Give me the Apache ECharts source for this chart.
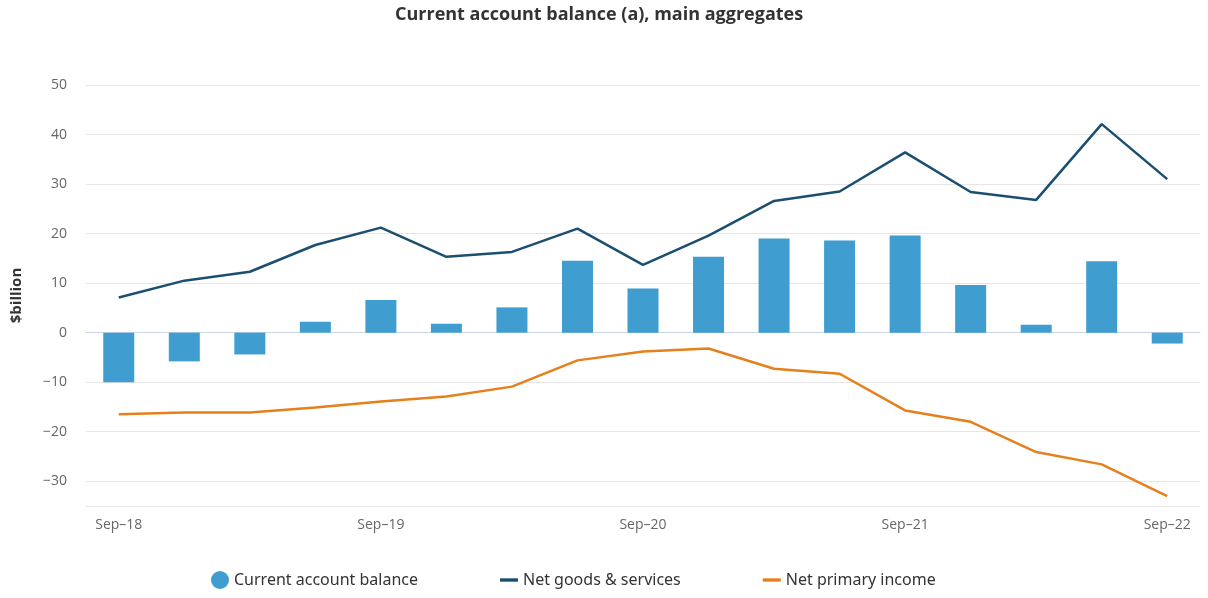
<!DOCTYPE html>
<html>
<head>
<meta charset="utf-8">
<script src="https://cdn.jsdelivr.net/npm/echarts@6/dist/echarts.min.js"></script>
<style>html,body{margin:0;padding:0;background:#fff}#c{width:1208px;height:598px}</style>
</head>
<body>
<div id="c"></div>
<script>
const categories = ["Sep-18","Dec-18","Mar-19","Jun-19","Sep-19","Dec-19","Mar-20","Jun-20","Sep-20","Dec-20","Mar-21","Jun-21","Sep-21","Dec-21","Mar-22","Jun-22","Sep-22"];
const currentAccount = [-10.0,-5.8,-4.4,2.2,6.6,1.8,5.1,14.5,8.9,15.3,19.0,18.6,19.6,9.6,1.6,14.4,-2.2];
const netGoodsServices = [7.1,10.5,12.3,17.7,21.2,15.3,16.3,21.0,13.7,19.6,26.6,28.5,36.4,28.4,26.8,42.1,31.0];
const netPrimaryIncome = [-16.5,-16.1,-16.1,-15.1,-13.9,-12.9,-10.9,-5.6,-3.8,-3.2,-7.3,-8.3,-15.7,-18.0,-24.1,-26.6,-33.0];

const chart = echarts.init(document.getElementById('c'));
const font = '"Open Sans", "DejaVu Sans", sans-serif';
const lineIcon = 'path://M0,0 H16 V3 H0 Z';
chart.setOption({
  animation: false,
  title: {
    text: 'Current account balance (a), main aggregates',
    left: 390, top: 1,
    textStyle: {fontFamily: font, fontSize: 18, fontWeight: 'bold', color: '#333'}
  },
  legend: {
    bottom: 4, left: 206, itemGap: 82,
    textStyle: {fontFamily: '"Noto Sans", sans-serif', fontSize: 16, color: '#333'},
    data: [
      {name: 'Current account balance', icon: 'circle'},
      {name: 'Net goods & services', icon: lineIcon},
      {name: 'Net primary income', icon: lineIcon}
    ],
    itemWidth: 18, itemHeight: 18
  },
  grid: {left: 86, right: 8, top: 85, bottom: 92},
  xAxis: {
    type: 'category', data: categories, boundaryGap: true,
    axisLine: {lineStyle: {color: '#ccd6eb'}},
    axisTick: {show: false},
    axisLabel: {interval: 3, color: '#666', fontFamily: font, fontSize: 14, margin: 12,
      formatter: v => v.replace('-', '\u2013')}
  },
  yAxis: {
    type: 'value', min: -35, max: 50, splitNumber: 8, minInterval: 10, maxInterval: 10,
    name: '$billion', nameLocation: 'middle', nameGap: 62, nameRotate: 90,
    nameTextStyle: {fontFamily: font, fontSize: 15, fontWeight: 'bold', color: '#333'},
    axisLabel: {color: '#666', fontFamily: font, fontSize: 14, margin: 19, showMinLabel: false,
      formatter: v => (v < 0 ? '\u2212' + Math.abs(v) : String(v))},
    splitLine: {lineStyle: {color: '#e6e6e6'}},
    axisLine: {show: false}, axisTick: {show: false}
  },
  series: [
    {name: 'Current account balance', type: 'bar', data: currentAccount, barWidth: 31,
      itemStyle: {color: '#3f9dd0'}},
    {name: 'Net goods & services', type: 'line', data: netGoodsServices, symbol: 'none',
      itemStyle: {color: '#1b4f72'}, lineStyle: {width: 2.5, color: '#1b4f72'}},
    {name: 'Net primary income', type: 'line', data: netPrimaryIncome, symbol: 'none',
      itemStyle: {color: '#e5801d'}, lineStyle: {width: 2.5, color: '#e5801d'}}
  ]
});
</script>
</body>
</html>
